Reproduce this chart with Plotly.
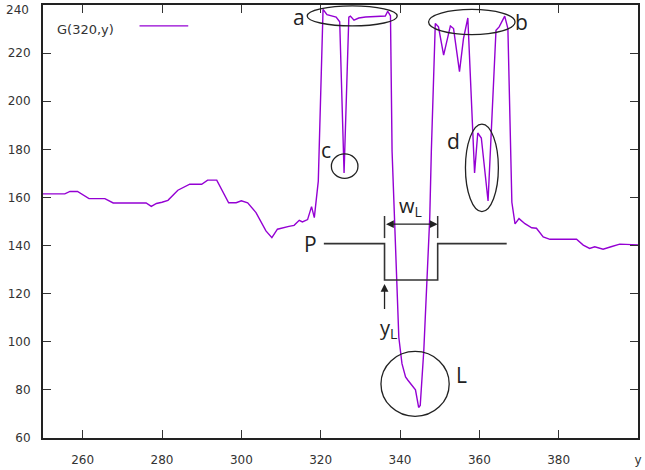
import plotly.graph_objects as go

# pixel row y along column 320 and the grey level G(320, y)
y_pos = [250, 255.5, 256.8, 258.7, 261.6, 265.6, 267.7, 276, 277.3, 278.6, 280, 281.5,
         284, 287, 290, 291.5, 293.8, 296.8, 298.7, 300, 301.6, 303.7, 306.2, 307.7,
         309.1, 310.4, 312, 313.3, 314.6, 315.4, 316.7, 317.7, 318.4, 319.4, 320.6,
         321.6, 322.9, 323.9, 324.8, 325.9, 327.1, 327.5, 328.4, 329.6, 331.3, 336.3,
         336.9, 337.6, 338.0, 338.9, 339.7, 340.5, 341.4, 342.0, 343.0, 343.9, 344.7,
         345.1, 346.0, 346.8, 347.5, 347.9, 348.5, 348.9, 349.7, 351.0, 352.7, 353.5,
         355.0, 356.0, 357.1, 358.8, 359.6, 360.5, 362.2, 364.2, 365.0, 366.4, 367.2,
         368.2, 369.0, 370.0, 371.5, 373.2, 374.4, 376.1, 377.8, 384.5, 386.2, 387.8,
         389.1, 391.2, 393.2, 395.4, 400]
g_val = [161.5, 161.5, 162.5, 162.5, 159.5, 159.5, 157.7, 157.7, 156.3, 157.5, 158, 158.8,
         163, 165.5, 165.5, 167.2, 167.2, 157.8, 157.8, 158.6, 157.8, 153.7, 146.1, 143.3,
         146.8, 147.4, 148.0, 148.4, 150.5, 149.8, 150.8, 156.2, 151.6, 166.8, 238.2,
         236.0, 235.4, 235.0, 233.0, 170.2, 235.0, 235.4, 233.7, 234.6, 235.0, 235.4,
         237.4, 235.5, 179.2, 137.8, 101.9, 90.9, 85.4, 84.0, 82.0, 80.0, 72.7,
         73.5, 96.4, 124.0, 151.6, 179.2, 215.0, 232.3, 230.9, 219.2, 231.3, 230.2,
         212.3, 226.0, 234.6, 170.2, 186.8, 184.7, 158.5, 229.5, 230.9, 235.4, 230.2,
         158.0, 149.0, 151.2, 149.1, 147.4, 147.2, 143.6, 142.6, 142.6, 140.2, 138.8,
         139.5, 138.5, 139.5, 140.6, 140.3]

# pulse P
pulse_y = [320.8, 336.1, 336.1, 349.5, 349.5, 366.9]
pulse_v = [140.8, 140.8, 125.7, 125.7, 140.8, 140.8]

x_ticks = [260, 280, 300, 320, 340, 360, 380, 400]
x_tick_text = ['260', '280', '300', '320', '340', '360', '380', 'y']
y_ticks = [60, 80, 100, 120, 140, 160, 180, 200, 220, 240]

CURVE = '#9400d3'
INK = '#222222'
TICKFONT = dict(family='DejaVu Sans', size=12, color='#333333')

fig = go.Figure()
fig.add_trace(go.Scatter(x=y_pos, y=g_val, mode='lines',
                         line=dict(color=CURVE, width=1.4), showlegend=False))
fig.add_trace(go.Scatter(x=pulse_y, y=pulse_v, mode='lines',
                         line=dict(color='#333333', width=1.6), showlegend=False))

shapes = []
def ell(x0, x1, y0, y1):
    shapes.append(dict(type='circle', xref='x', yref='y', x0=x0, x1=x1, y0=y0, y1=y1,
                       line=dict(color=INK, width=1.3)))
ell(316.6, 339.3, 231.3, 239.6)   # a
ell(347.2, 369.0, 227.7, 238.2)   # b
ell(322.7, 329.4, 167.9, 178.1)   # c
ell(356.5, 364.8, 154.1, 190.5)   # d
ell(335.2, 352.4, 69.0, 96.0)     # L
for xv in (336.1, 349.5):
    shapes.append(dict(type='line', xref='x', yref='y', x0=xv, x1=xv, y0=143.1, y1=152.3,
                       line=dict(color='#333333', width=1.5)))
# legend sample line
shapes.append(dict(type='line', xref='paper', yref='paper', x0=0.1622, x1=0.2441,
                   y0=0.9517, y1=0.9517, line=dict(color=CURVE, width=1.4)))

ann = []
def lab(t, x, y, size=21):
    ann.append(dict(text=t, x=x, y=y, xref='x', yref='y', showarrow=False,
                    font=dict(family='Open Sans', size=size, color=INK)))
lab('a', 314.6, 235.0)
lab('b', 370.7, 233.0)
lab('c', 321.4, 179.9)
lab('d', 353.5, 183.3)
lab('L', 355.5, 86.1)
lab('P', 317.5, 140.6)
lab('w<sub>L</sub>', 342.7, 156.4, 20)
lab('y<sub>L</sub>', 337.2, 105.5, 20)
ann.append(dict(text='', x=349.5, y=148.9, ax=336.1, ay=148.9, xref='x', yref='y',
                axref='x', ayref='y', showarrow=True, arrowside='end+start',
                arrowhead=2, arrowsize=1.2, arrowwidth=1.3, arrowcolor=INK,
                standoff=0, startstandoff=0))
ann.append(dict(text='', x=336.1, y=124.0, ax=336.1, ay=113.0, xref='x', yref='y',
                axref='x', ayref='y', showarrow=True, arrowhead=2, arrowsize=1.2,
                arrowwidth=1.3, arrowcolor=INK, standoff=0))
ann.append(dict(text='G(320,y)', x=0.0201, y=0.9425, xref='paper', yref='paper',
                xanchor='left', yanchor='middle', showarrow=False,
                font=dict(family='DejaVu Sans', size=13, color='#333333')))
# top y tick label (plotly hides it because it would overflow the page top)
ann.append(dict(text=str(y_ticks[-1]), x=-0.0217, y=1.0069, xref='paper', yref='paper',
                xanchor='right', yanchor='top', showarrow=False, font=TICKFONT,
                borderpad=0))

axis_common = dict(showgrid=False, zeroline=False, showline=True, linecolor=INK,
                   linewidth=2, mirror='allticks', ticks='inside', ticklen=8,
                   tickwidth=1.3, tickcolor='#333333', tickfont=TICKFONT)

fig.update_layout(
    width=645, height=470,
    margin=dict(l=43, r=4, t=3, b=32),
    paper_bgcolor='white', plot_bgcolor='white',
    xaxis=dict(range=[250, 400], tickvals=x_ticks, ticktext=x_tick_text,
               ticklabelstandoff=10, **axis_common),
    yaxis=dict(range=[60, 240], tickvals=y_ticks, ticklabelstandoff=8, **axis_common),
    shapes=shapes, annotations=ann,
)
fig.write_html('out.html')
